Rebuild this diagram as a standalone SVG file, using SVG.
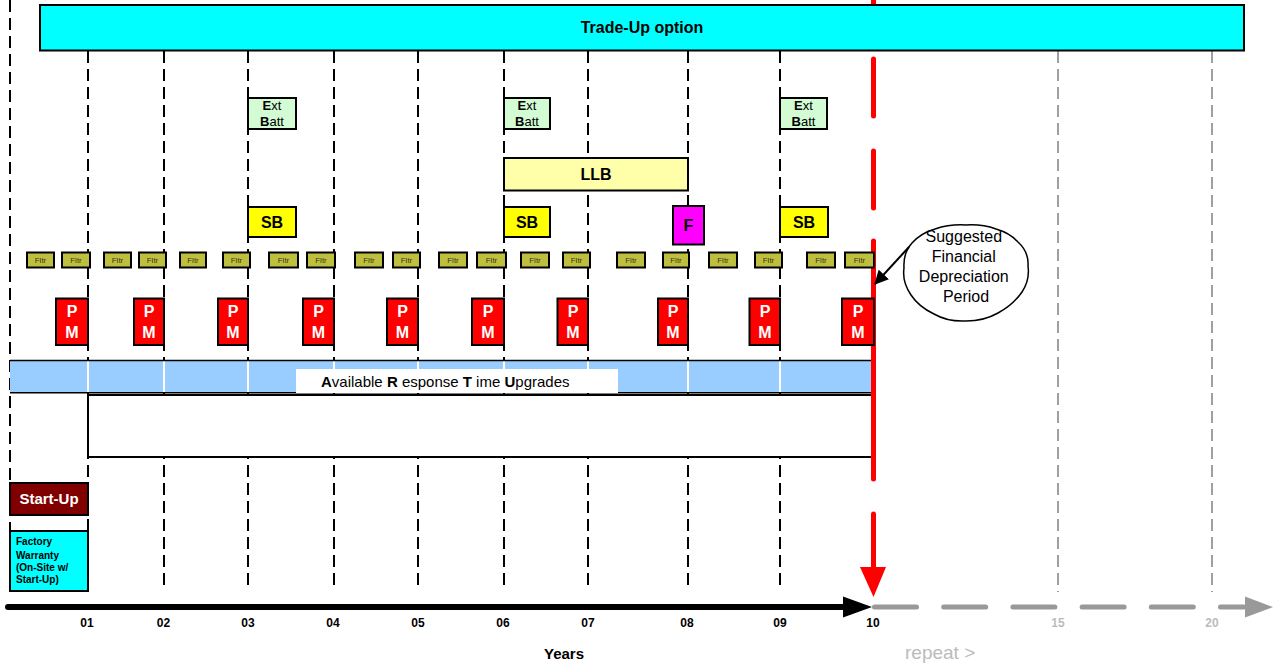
<svg xmlns="http://www.w3.org/2000/svg" width="1273" height="665" viewBox="0 0 1273 665">
<defs>
<style>
text{font-family:"Liberation Sans",Arial,sans-serif}
.grid{stroke:#000;stroke-width:2;stroke-dasharray:12 6;fill:none}
.ggrid{stroke:#A0A0A0;stroke-width:2;stroke-dasharray:12 6;fill:none}
.box{stroke:#000;stroke-width:2}
.fltr{fill:#BFBF3F;stroke:#000;stroke-width:2}
.ft{font-size:8px;fill:#3A3A10;text-anchor:middle}
.pm{fill:#FF0000;stroke:#000;stroke-width:2}
.pmt{font-size:16px;font-weight:bold;fill:#fff;text-anchor:middle}
.eb{fill:#D4FCD4;stroke:#000;stroke-width:2}
.ebt{font-size:13px;fill:#000;text-anchor:middle}
.sb{fill:#FFFF00;stroke:#000;stroke-width:2}
.bt{font-size:16px;font-weight:bold;fill:#000;text-anchor:middle}
.yl{font-size:12px;font-weight:bold;fill:#000;text-anchor:middle}
.gl{font-size:12px;font-weight:bold;fill:#BBBBBB;text-anchor:middle}
.red{stroke:#FF0000;stroke-width:5;stroke-linecap:round}
.wl{stroke:#fff;stroke-width:2}
</style>
<marker id="ah" markerWidth="14" markerHeight="14" refX="13" refY="7" orient="auto" markerUnits="userSpaceOnUse" viewBox="0 0 14 14">
<path d="M0,0 L14,7 L0,14 z" fill="#000"/>
</marker>
</defs>

<g id="grid">
<line class="grid" x1="10" y1="0" x2="10" y2="591"/>
<line class="grid" x1="88" y1="51" x2="88" y2="591"/>
<line class="grid" x1="164" y1="51" x2="164" y2="591"/>
<line class="grid" x1="248" y1="51" x2="248" y2="591"/>
<line class="grid" x1="334" y1="51" x2="334" y2="591"/>
<line class="grid" x1="418" y1="51" x2="418" y2="591"/>
<line class="grid" x1="504" y1="51" x2="504" y2="591"/>
<line class="grid" x1="588" y1="51" x2="588" y2="591"/>
<line class="grid" x1="688" y1="51" x2="688" y2="591"/>
<line class="grid" x1="780" y1="51" x2="780" y2="591"/>
<line class="ggrid" x1="1058" y1="51" x2="1058" y2="592"/>
<line class="ggrid" x1="1212" y1="51" x2="1212" y2="592"/>
</g>

<g id="band">
<rect x="10" y="361" width="864" height="32" fill="#99CCFF"/>
<line class="wl" x1="88" y1="361" x2="88" y2="393"/>
<line class="wl" x1="164" y1="361" x2="164" y2="393"/>
<line class="wl" x1="248" y1="361" x2="248" y2="393"/>
<line class="wl" x1="334" y1="361" x2="334" y2="393"/>
<line class="wl" x1="418" y1="361" x2="418" y2="393"/>
<line class="wl" x1="504" y1="361" x2="504" y2="393"/>
<line class="wl" x1="588" y1="361" x2="588" y2="393"/>
<line class="wl" x1="688" y1="361" x2="688" y2="393"/>
<line class="wl" x1="780" y1="361" x2="780" y2="393"/>
<line x1="10" y1="360.5" x2="874" y2="360.5" stroke="#000" stroke-width="1.5"/>
<line x1="10" y1="392.8" x2="874" y2="392.8" stroke="#000" stroke-width="1.5"/>
<rect x="296" y="369" width="322" height="24" fill="#fff"/>
<text x="321" y="387" font-size="15" fill="#000"><tspan font-weight="bold">A</tspan>vailable <tspan font-weight="bold">R</tspan> esponse <tspan font-weight="bold">T</tspan> ime <tspan font-weight="bold">U</tspan>pgrades</text>
</g>

<g id="response-box">
<rect x="88" y="395" width="786" height="62" fill="#fff" stroke="#000" stroke-width="2"/>
</g>

<g id="red-line">
<line class="red" x1="873.5" y1="0" x2="873.5" y2="27"/>
<line class="red" x1="873.5" y1="59" x2="873.5" y2="116"/>
<line class="red" x1="873.5" y1="151" x2="873.5" y2="208"/>
<line class="red" x1="873.5" y1="241" x2="873.5" y2="479"/>
<line class="red" x1="873.5" y1="514" x2="873.5" y2="572"/>
<path d="M860,567 L886,567 L873.5,597 z" fill="#FF0000"/>
</g>

<g id="trade-up">
<rect class="box" x="40" y="5" width="1204" height="45.5" fill="#00FFFF"/>
<text x="642" y="33" font-size="16" font-weight="bold" text-anchor="middle">Trade-Up option</text>
</g>

<g id="ext-batt-1">
<rect class="eb" x="248" y="98" width="48" height="31"/>
<text class="ebt" x="272" y="109.5"><tspan font-weight="bold">E</tspan>xt</text>
<text class="ebt" x="272" y="125.5"><tspan font-weight="bold">B</tspan>att</text>
</g>
<g id="ext-batt-2">
<rect class="eb" x="504" y="98" width="46" height="31"/>
<text class="ebt" x="527" y="109.5"><tspan font-weight="bold">E</tspan>xt</text>
<text class="ebt" x="527" y="125.5"><tspan font-weight="bold">B</tspan>att</text>
</g>
<g id="ext-batt-3">
<rect class="eb" x="780" y="98" width="47" height="31"/>
<text class="ebt" x="803.5" y="109.5"><tspan font-weight="bold">E</tspan>xt</text>
<text class="ebt" x="803.5" y="125.5"><tspan font-weight="bold">B</tspan>att</text>
</g>

<g id="llb">
<rect class="box" x="504" y="158" width="184" height="32.5" fill="#FFFFAA"/>
<text class="bt" x="596" y="180">LLB</text>
</g>

<g id="sb-1"><rect class="sb" x="248" y="207" width="48" height="30"/><text class="bt" x="272" y="228">SB</text></g>
<g id="sb-2"><rect class="sb" x="504" y="207" width="46" height="30"/><text class="bt" x="527" y="228">SB</text></g>
<g id="sb-3"><rect class="sb" x="780" y="207" width="48" height="30"/><text class="bt" x="804" y="228">SB</text></g>
<g id="f"><rect class="box" x="673" y="206" width="31" height="38.5" fill="#FF00FF"/><text class="bt" x="688.5" y="231">F</text></g>

<g id="filters">
<g><rect class="fltr" x="27" y="252.5" width="27" height="15"/><text class="ft" x="40.5" y="263">Fltr</text></g>
<g><rect class="fltr" x="62" y="252.5" width="28" height="15"/><text class="ft" x="76" y="263">Fltr</text></g>
<g><rect class="fltr" x="104" y="252.5" width="27" height="15"/><text class="ft" x="117.5" y="263">Fltr</text></g>
<g><rect class="fltr" x="139" y="252.5" width="27" height="15"/><text class="ft" x="152.5" y="263">Fltr</text></g>
<g><rect class="fltr" x="180" y="252.5" width="26" height="15"/><text class="ft" x="193" y="263">Fltr</text></g>
<g><rect class="fltr" x="223" y="252.5" width="27" height="15"/><text class="ft" x="236.5" y="263">Fltr</text></g>
<g><rect class="fltr" x="269" y="252.5" width="29" height="15"/><text class="ft" x="283.5" y="263">Fltr</text></g>
<g><rect class="fltr" x="307" y="252.5" width="28" height="15"/><text class="ft" x="321" y="263">Fltr</text></g>
<g><rect class="fltr" x="355" y="252.5" width="28" height="15"/><text class="ft" x="369" y="263">Fltr</text></g>
<g><rect class="fltr" x="393" y="252.5" width="27" height="15"/><text class="ft" x="406.5" y="263">Fltr</text></g>
<g><rect class="fltr" x="439" y="252.5" width="28" height="15"/><text class="ft" x="453" y="263">Fltr</text></g>
<g><rect class="fltr" x="477" y="252.5" width="29" height="15"/><text class="ft" x="491.5" y="263">Fltr</text></g>
<g><rect class="fltr" x="521" y="252.5" width="28" height="15"/><text class="ft" x="535" y="263">Fltr</text></g>
<g><rect class="fltr" x="563" y="252.5" width="27" height="15"/><text class="ft" x="576.5" y="263">Fltr</text></g>
<g><rect class="fltr" x="617" y="252.5" width="28" height="15"/><text class="ft" x="631" y="263">Fltr</text></g>
<g><rect class="fltr" x="663" y="252.5" width="26" height="15"/><text class="ft" x="676" y="263">Fltr</text></g>
<g><rect class="fltr" x="709" y="252.5" width="28" height="15"/><text class="ft" x="723" y="263">Fltr</text></g>
<g><rect class="fltr" x="755" y="252.5" width="27" height="15"/><text class="ft" x="768.5" y="263">Fltr</text></g>
<g><rect class="fltr" x="807" y="252.5" width="28" height="15"/><text class="ft" x="821" y="263">Fltr</text></g>
<g><rect class="fltr" x="845" y="252.5" width="29" height="15"/><text class="ft" x="859.5" y="263">Fltr</text></g>
</g>

<g id="pm">
<g><rect class="pm" x="56" y="298.5" width="32" height="46.5"/><text class="pmt" x="72" y="317">P</text><text class="pmt" x="72" y="338">M</text></g>
<g><rect class="pm" x="134" y="298.5" width="30" height="46.5"/><text class="pmt" x="149" y="317">P</text><text class="pmt" x="149" y="338">M</text></g>
<g><rect class="pm" x="218" y="298.5" width="30" height="46.5"/><text class="pmt" x="233" y="317">P</text><text class="pmt" x="233" y="338">M</text></g>
<g><rect class="pm" x="303" y="298.5" width="31" height="46.5"/><text class="pmt" x="318.5" y="317">P</text><text class="pmt" x="318.5" y="338">M</text></g>
<g><rect class="pm" x="387" y="298.5" width="31" height="46.5"/><text class="pmt" x="402.5" y="317">P</text><text class="pmt" x="402.5" y="338">M</text></g>
<g><rect class="pm" x="472" y="298.5" width="32" height="46.5"/><text class="pmt" x="488" y="317">P</text><text class="pmt" x="488" y="338">M</text></g>
<g><rect class="pm" x="557.5" y="298.5" width="30.5" height="46.5"/><text class="pmt" x="573" y="317">P</text><text class="pmt" x="573" y="338">M</text></g>
<g><rect class="pm" x="658" y="298.5" width="30" height="46.5"/><text class="pmt" x="673" y="317">P</text><text class="pmt" x="673" y="338">M</text></g>
<g><rect class="pm" x="749.5" y="298.5" width="30.5" height="46.5"/><text class="pmt" x="765" y="317">P</text><text class="pmt" x="765" y="338">M</text></g>
<g><rect class="pm" x="842" y="298.5" width="32" height="46.5"/><text class="pmt" x="858" y="317">P</text><text class="pmt" x="858" y="338">M</text></g>
</g>

<g id="start-up">
<rect class="box" x="10" y="483" width="78" height="32" fill="#800000"/>
<text x="49" y="503.5" font-size="15" font-weight="bold" fill="#fff" text-anchor="middle">Start-Up</text>
</g>

<g id="factory-warranty">
<rect class="box" x="10" y="531" width="78" height="60" fill="#00FFFF"/>
<text font-size="10" font-weight="bold" fill="#000">
<tspan x="16" y="545">Factory</tspan>
<tspan x="16" y="559">Warranty</tspan>
<tspan x="16" y="571">(On-Site w/</tspan>
<tspan x="16" y="583">Start-Up)</tspan>
</text>
</g>

<g id="callout">
<path d="M966,225 Q982,224 996,229 Q1010,233 1018,242 Q1029,252 1028,266 Q1030,280 1022,292 Q1013,305 998,313 Q984,321 966,321 Q948,322 934,314 Q919,307 911,295 Q902,282 904,268 Q903,253 912,243 Q921,233 935,229 Q950,224 966,225 Z" fill="#fff" stroke="#000" stroke-width="1.5"/>
<text font-size="16" fill="#000" text-anchor="middle">
<tspan x="966" y="242">Suggested</tspan>
<tspan x="966" y="262">Financial</tspan>
<tspan x="966" y="282">Depreciation</tspan>
<tspan x="966" y="302">Period</tspan>
</text>
</g>

<g id="connectors">
<line x1="909" y1="247" x2="875" y2="284" stroke="#000" stroke-width="2" marker-end="url(#ah)"/>
</g>

<g id="timeline">
<line x1="8" y1="607" x2="846" y2="607" stroke="#000" stroke-width="6" stroke-linecap="round"/>
<path d="M843,596.5 L872,607 L843,617.5 z" fill="#000"/>
<line x1="874.5" y1="607" x2="1244" y2="607" stroke="#999" stroke-width="5" stroke-linecap="round" stroke-dasharray="42 27.2"/>
<path d="M1245,596.5 L1273,607 L1245,617.5 z" fill="#999"/>
<text class="yl" x="87" y="627">01</text>
<text class="yl" x="163.5" y="627">02</text>
<text class="yl" x="248" y="627">03</text>
<text class="yl" x="333" y="627">04</text>
<text class="yl" x="418" y="627">05</text>
<text class="yl" x="503" y="627">06</text>
<text class="yl" x="588" y="627">07</text>
<text class="yl" x="687" y="627">08</text>
<text class="yl" x="780" y="627">09</text>
<text class="yl" x="873" y="627">10</text>
<text class="gl" x="1058" y="627">15</text>
<text class="gl" x="1212" y="627">20</text>
<text x="564" y="659" font-size="15" font-weight="bold" text-anchor="middle">Years</text>
<text x="905" y="659" font-size="19" fill="#BBBBBB">repeat &gt;</text>
</g>
</svg>
